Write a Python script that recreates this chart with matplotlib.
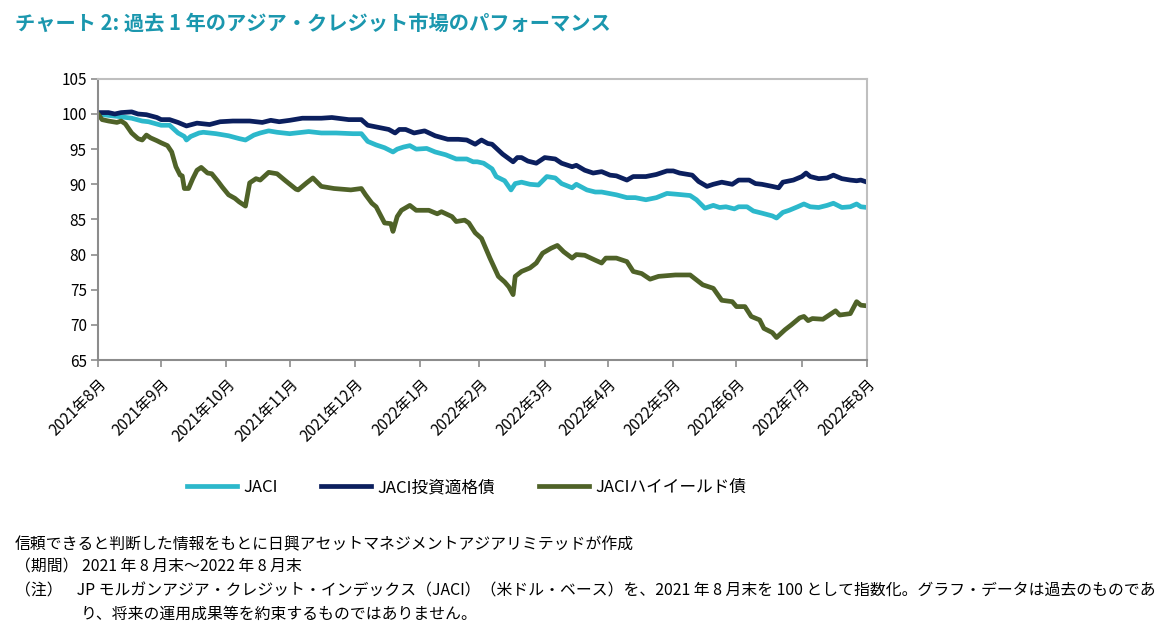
import matplotlib
matplotlib.use("Agg")
import matplotlib.pyplot as plt
import pandas as pd

plt.rcParams['font.family'] = ['Noto Sans CJK JP', 'DejaVu Sans']

# days after 2021-08-31, index values
start = pd.Timestamp("2021-08-31")

jaci_days = [0, 5, 11, 16, 21, 24, 30, 34, 38, 41, 42, 44, 48, 50, 56, 62, 67, 70, 74, 77,
             81, 85, 91, 97, 100, 106, 113, 121, 125, 128, 132, 136, 140, 142, 145, 148, 151,
             156, 160, 165, 170, 175, 178, 180, 183, 187, 189, 193, 196, 198, 201, 205, 209,
             213, 217, 220, 225, 227, 232, 236, 239, 246, 251, 255, 260, 265, 270, 274, 281,
             284, 288, 292, 295, 298, 302, 304, 308, 311, 315, 320, 322, 325, 328, 332, 335,
             338, 342, 346, 349, 353, 357, 360, 362, 365]
jaci_vals = [100, 99.8, 99.6, 99.4, 99.0, 98.9, 98.4, 98.4, 97.3, 96.8, 96.3, 96.8, 97.3, 97.4,
             97.2, 96.9, 96.5, 96.3, 97.0, 97.3, 97.6, 97.4, 97.2, 97.4, 97.5, 97.3, 97.3, 97.2,
             97.2, 96.1, 95.6, 95.2, 94.6, 95.0, 95.3, 95.5, 95.0, 95.1, 94.6, 94.2, 93.6, 93.6,
             93.2, 93.2, 93.0, 92.2, 91.1, 90.5, 89.2, 90.1, 90.3, 90.0, 89.9, 91.1, 90.9, 90.1,
             89.5, 90.0, 89.2, 88.9, 88.9, 88.5, 88.1, 88.1, 87.8, 88.1, 88.7, 88.6, 88.4, 87.8,
             86.6, 87.0, 86.7, 86.8, 86.5, 86.8, 86.8, 86.2, 85.9, 85.5, 85.2, 86.0, 86.3, 86.8,
             87.2, 86.8, 86.7, 87.0, 87.3, 86.7, 86.8, 87.2, 86.8, 86.7]

ig_days = [0, 5, 8, 11, 16, 19, 23, 28, 30, 34, 38, 42, 47, 53, 58, 64, 72, 78, 82, 86, 91, 97,
           106, 111, 119, 125, 128, 133, 138, 141, 143, 146, 150, 155, 160, 166, 171, 175, 179,
           182, 185, 187, 192, 197, 199, 201, 204, 208, 212, 217, 220, 225, 227, 231, 235, 239,
           243, 246, 251, 254, 260, 265, 270, 273, 276, 282, 285, 289, 292, 296, 301, 304, 309,
           312, 315, 320, 323, 325, 330, 334, 336, 338, 342, 346, 349, 353, 357, 360, 362, 365]
ig_vals = [100.2, 100.2, 100.0, 100.2, 100.3, 100.0, 99.9, 99.5, 99.2, 99.2, 98.8, 98.3, 98.7,
           98.5, 98.9, 99.0, 99.0, 98.8, 99.1, 98.9, 99.1, 99.4, 99.4, 99.5, 99.2, 99.2, 98.4,
           98.1, 97.8, 97.3, 97.8, 97.8, 97.3, 97.6, 96.9, 96.4, 96.4, 96.3, 95.7, 96.3, 95.8,
           95.7, 94.3, 93.2, 93.8, 93.8, 93.3, 93.0, 93.8, 93.6, 93.0, 92.5, 92.7, 92.0, 91.6,
           91.8, 91.3, 91.2, 90.6, 91.1, 91.1, 91.4, 91.9, 91.9, 91.6, 91.3, 90.4, 89.7, 90.0,
           90.3, 90.0, 90.6, 90.6, 90.1, 90.0, 89.7, 89.5, 90.3, 90.6, 91.1, 91.6, 91.1, 90.8,
           90.9, 91.3, 90.8, 90.6, 90.5, 90.6, 90.3]

hy_days = [0, 2, 5, 9, 11, 13, 16, 19, 21, 23, 25, 28, 30, 33, 35, 37, 39, 40, 41, 43, 45, 47,
           49, 52, 54, 57, 59, 62, 65, 67, 70, 72, 75, 77, 81, 85, 89, 94, 95, 99, 102, 106, 112,
           120, 125, 127, 130, 132, 136, 139, 140, 142, 144, 148, 151, 157, 161, 163, 168, 170,
           174, 176, 179, 182, 186, 190, 193, 195, 197, 198, 201, 205, 208, 211, 215, 218, 221,
           225, 227, 231, 236, 239, 241, 246, 251, 254, 258, 262, 266, 274, 281, 287, 292, 296,
           301, 303, 307, 310, 314, 316, 320, 322, 326, 329, 333, 335, 337, 339, 344, 347, 350,
           352, 357, 360, 362, 365]
hy_vals = [100, 99.2, 99.0, 98.8, 99.0, 98.6, 97.3, 96.5, 96.3, 97.0, 96.6, 96.2, 95.9, 95.5,
           94.6, 92.5, 91.3, 91.2, 89.4, 89.4, 90.8, 92.0, 92.4, 91.6, 91.5, 90.4, 89.6, 88.5,
           88.0, 87.5, 86.9, 90.2, 90.8, 90.6, 91.7, 91.5, 90.5, 89.3, 89.2, 90.2, 90.9, 89.7,
           89.4, 89.2, 89.4, 88.5, 87.3, 86.8, 84.5, 84.4, 83.3, 85.4, 86.3, 87.0, 86.3, 86.3,
           85.8, 86.1, 85.4, 84.7, 84.9, 84.5, 83.1, 82.3, 79.5, 76.9, 76.1, 75.4, 74.3, 76.9,
           77.6, 78.1, 78.8, 80.2, 80.9, 81.3, 80.4, 79.5, 80.0, 79.9, 79.2, 78.8, 79.5, 79.5,
           79.0, 77.6, 77.3, 76.5, 76.9, 77.1, 77.1, 75.7, 75.2, 73.5, 73.3, 72.6, 72.6, 71.2,
           70.7, 69.5, 68.9, 68.2, 69.3, 70.0, 71.0, 71.2, 70.6, 70.9, 70.8, 71.4, 72.0, 71.4,
           71.6, 73.3, 72.8, 72.7]

series_names = ["JACI", "JACI投資適格債", "JACIハイイールド債"]
series_colors = ["#2cb8cb", "#0b1f5e", "#4f6228"]

month_ticks = pd.date_range("2021-08-31", "2022-08-31", freq="ME")
month_labels = [f"{d.year}年{d.month}月" for d in month_ticks]

title = "チャート 2: 過去 1 年のアジア・クレジット市場のパフォーマンス"
notes = [
    "信頼できると判断した情報をもとに日興アセットマネジメントアジアリミテッドが作成",
    "（期間） 2021 年 8 月末～2022 年 8 月末",
    "（注）    JP モルガンアジア・クレジット・インデックス（JACI）（米ドル・ベース）を、2021 年 8 月末を 100 として指数化。グラフ・データは過去のものであ",
]
note_last = "り、将来の運用成果等を約束するものではありません。"

fig = plt.figure(figsize=(11.66, 6.39), dpi=100)
ax = fig.add_axes([0.084, 0.4366, 0.6597, 0.44])

all_days = [jaci_days, ig_days, hy_days]
all_vals = [jaci_vals, ig_vals, hy_vals]
for days, vals, name, col in zip(all_days, all_vals, series_names, series_colors):
    dates = start + pd.to_timedelta(days, unit="D")
    ax.plot(dates, vals, color=col, lw=3.4, label=name, solid_joinstyle="round")

ax.set_ylim(65, 105)
ax.set_yticks(range(65, 106, 5))
ax.set_xlim(month_ticks[0], month_ticks[-1])
ax.set_xticks(month_ticks)
ax.set_xticklabels(month_labels, rotation=45, ha="right", rotation_mode="anchor")
ax.tick_params(axis="both", direction="out", length=5, width=1.2, color="#8c8c8c",
               labelsize=11, pad=3)
ax.tick_params(axis="x", pad=6)
for s in ["left", "bottom"]:
    ax.spines[s].set_color("#8c8c8c")
    ax.spines[s].set_linewidth(1.5)
for s in ["top", "right"]:
    ax.spines[s].set_color("#bfbfbf")
    ax.spines[s].set_linewidth(1.5)

fig.legend(loc="center", bbox_to_anchor=(0.40, 0.237), ncol=3, frameon=False,
           fontsize=12, handlelength=3.0, columnspacing=2.6, handletextpad=0.4)

fig.text(0.013, 0.963, title, color="#1b97ae", fontsize=14.6, fontweight="bold", va="center")

ys = [0.148, 0.112, 0.075]
for y, t in zip(ys, notes):
    fig.text(0.013, y, t, fontsize=11.4, va="center")
fig.text(0.069, 0.039, note_last, fontsize=11.4, va="center")

fig.savefig("out.png", dpi=100)
